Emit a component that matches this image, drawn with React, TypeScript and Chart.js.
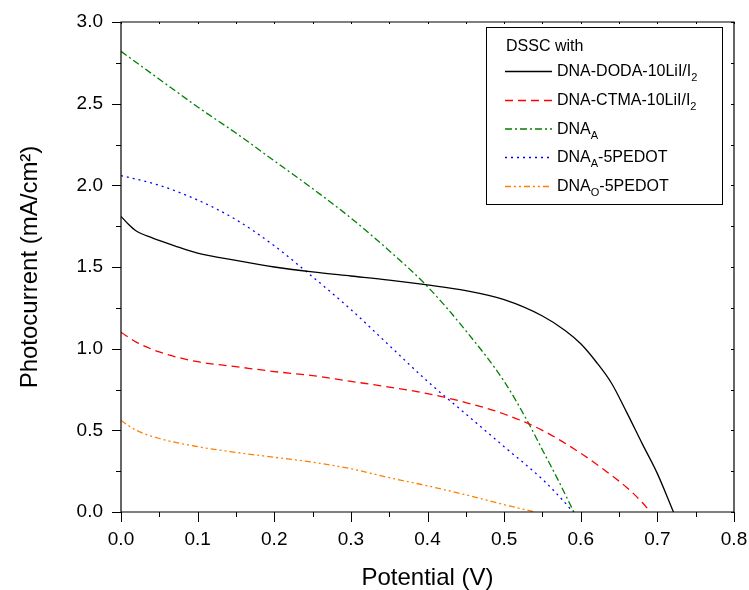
import React, { useEffect, useRef } from "react";
import { Chart, registerables } from "chart.js";

Chart.register(...registerables);

// ---- data (Potential V, Photocurrent mA/cm2) ----
const dodaV = [0, 0.01, 0.02, 0.04, 0.07, 0.1, 0.15, 0.2, 0.25, 0.3, 0.35, 0.4, 0.45, 0.5, 0.55, 0.58, 0.6, 0.62, 0.64, 0.66, 0.68, 0.7, 0.721];
const dodaJ = [1.81, 1.76, 1.72, 1.68, 1.63, 1.585, 1.54, 1.5, 1.47, 1.445, 1.42, 1.39, 1.355, 1.3, 1.2, 1.11, 1.03, 0.92, 0.79, 0.61, 0.42, 0.235, 0];

const ctmaV = [0, 0.02, 0.05, 0.1, 0.15, 0.2, 0.25, 0.3, 0.35, 0.4, 0.45, 0.5, 0.55, 0.6, 0.63, 0.66, 0.68, 0.691];
const ctmaJ = [1.1, 1.04, 0.98, 0.92, 0.89, 0.86, 0.835, 0.8, 0.765, 0.725, 0.67, 0.6, 0.5, 0.36, 0.26, 0.15, 0.06, 0];

const dnaAV = [0, 0.05, 0.1, 0.15, 0.2, 0.25, 0.3, 0.35, 0.4, 0.45, 0.5, 0.53, 0.55, 0.57, 0.591];
const dnaAJ = [2.82, 2.65, 2.48, 2.32, 2.15, 1.98, 1.8, 1.6, 1.38, 1.11, 0.8, 0.56, 0.38, 0.2, 0];

const dnaAPedotV = [0, 0.05, 0.1, 0.15, 0.2, 0.25, 0.3, 0.35, 0.4, 0.45, 0.5, 0.55, 0.575, 0.59];
const dnaAPedotJ = [2.06, 2.0, 1.91, 1.79, 1.63, 1.44, 1.24, 1.02, 0.8, 0.6, 0.4, 0.2, 0.08, 0];

const dnaOPedotV = [0, 0.02, 0.05, 0.1, 0.15, 0.2, 0.25, 0.3, 0.35, 0.4, 0.45, 0.5, 0.54];
const dnaOPedotJ = [0.56, 0.5, 0.45, 0.4, 0.365, 0.335, 0.305, 0.265, 0.21, 0.16, 0.105, 0.045, 0];

// legend labels: [main, subscript, after]
const legendTitle = "DSSC with";
const legendMain = ["DNA-DODA-10LiI/I", "DNA-CTMA-10LiI/I", "DNA", "DNA", "DNA"];
const legendSub = ["2", "2", "A", "A", "O"];
const legendAfter = ["", "", "", "-5PEDOT", "-5PEDOT"];

const xTitle = "Potential (V)";
const yTitle = "Photocurrent (mA/cm\u00B2)";

const FONT = "Arial, 'Liberation Sans', sans-serif";

const seriesX = [dodaV, ctmaV, dnaAV, dnaAPedotV, dnaOPedotV];
const seriesY = [dodaJ, ctmaJ, dnaAJ, dnaAPedotJ, dnaOPedotJ];
const colors = ["#000000", "#ff0000", "#008000", "#0000ff", "#ff8000"];
const dashes: number[][] = [[], [8, 5], [7, 3, 2, 3], [2, 4], [6, 3, 2, 3, 2, 3]];

const framePlugin = {
  id: "frameTicks",
  afterDraw(chart: any) {
    const { ctx, chartArea: ca, scales } = chart;
    const xs = scales.x;
    const ys = scales.y;
    ctx.save();
    ctx.strokeStyle = "#000";
    ctx.lineWidth = 1.2;
    ctx.beginPath();
    ctx.rect(ca.left, ca.top, ca.right - ca.left, ca.bottom - ca.top);
    ctx.stroke();
    ctx.lineWidth = 1;
    ctx.beginPath();
    for (let i = 0; i <= 16; i++) {
      const v = i * 0.05;
      const px = Math.round(xs.getPixelForValue(v)) + 0.5;
      const major = i % 2 === 0;
      ctx.moveTo(px, ca.bottom);
      ctx.lineTo(px, ca.bottom + (major ? 10 : 5));
      ctx.moveTo(px, ca.top);
      ctx.lineTo(px, ca.top + 2);
    }
    for (let i = 0; i <= 12; i++) {
      const v = i * 0.25;
      const py = Math.round(ys.getPixelForValue(v)) + 0.5;
      const major = i % 2 === 0;
      ctx.moveTo(ca.left, py);
      ctx.lineTo(ca.left - (major ? 9 : 5), py);
      ctx.moveTo(ca.right, py);
      ctx.lineTo(ca.right - 3, py);
    }
    ctx.stroke();

    // legend
    const bx = 486, by = 27, bw = 236, bh = 177;
    ctx.fillStyle = "#fff";
    ctx.fillRect(bx, by, bw, bh);
    ctx.strokeStyle = "#000";
    ctx.lineWidth = 1;
    ctx.strokeRect(bx + 0.5, by + 0.5, bw, bh);
    ctx.fillStyle = "#000";
    ctx.textBaseline = "middle";
    ctx.textAlign = "left";
    ctx.font = `16px ${FONT}`;
    ctx.fillText(legendTitle, 506, 47);
    const rowY = [71, 100, 128.5, 157, 186];
    for (let i = 0; i < legendMain.length; i++) {
      const y = rowY[i];
      ctx.save();
      ctx.strokeStyle = colors[i];
      ctx.lineWidth = 1.3;
      ctx.setLineDash(dashes[i]);
      ctx.beginPath();
      ctx.moveTo(505, y + 0.5);
      ctx.lineTo(552, y + 0.5);
      ctx.stroke();
      ctx.restore();
      let tx = 557;
      ctx.font = `16px ${FONT}`;
      ctx.fillText(legendMain[i], tx, y + 1);
      tx += ctx.measureText(legendMain[i]).width;
      ctx.font = `11px ${FONT}`;
      ctx.fillText(legendSub[i], tx, y + 7);
      tx += ctx.measureText(legendSub[i]).width;
      ctx.font = `16px ${FONT}`;
      if (legendAfter[i]) ctx.fillText(legendAfter[i], tx, y + 1);
    }
    ctx.restore();
  },
};

export default function App() {
  const canvasRef = useRef<HTMLCanvasElement | null>(null);

  useEffect(() => {
    if (!canvasRef.current) return;
    const datasets = seriesX.map((xs, i) => ({
      label: legendMain[i] + legendSub[i] + legendAfter[i],
      data: xs.map((x, j) => ({ x, y: seriesY[i][j] })),
      borderColor: colors[i],
      backgroundColor: colors[i],
      borderWidth: 1.3,
      borderDash: dashes[i],
      pointRadius: 0,
      showLine: true,
      fill: false,
      cubicInterpolationMode: "monotone" as const,
    }));
    const zeroPad = (s: any) => {
      s.paddingTop = 0;
      s.paddingBottom = 0;
      s.paddingLeft = 0;
      s.paddingRight = 0;
    };
    const chart = new Chart(canvasRef.current, {
      type: "line",
      data: { datasets },
      options: {
        animation: false,
        responsive: true,
        maintainAspectRatio: false,
        layout: { padding: { top: 22, right: 15, left: 0, bottom: 0 } },
        plugins: { legend: { display: false }, tooltip: { enabled: false } },
        scales: {
          x: {
            type: "linear",
            min: 0,
            max: 0.8,
            grid: { display: false, drawTicks: false },
            border: { display: false },
            ticks: {
              stepSize: 0.1,
              color: "#000",
              padding: 16,
              font: { family: FONT, size: 19 },
              callback: (v: any) => Number(v).toFixed(1),
            },
            title: {
              display: true,
              text: xTitle,
              color: "#000",
              font: { family: FONT, size: 24, lineHeight: 1 },
              padding: { top: 0, bottom: 0 },
            },
            afterFit: (s: any) => {
              s.height = 78;
              zeroPad(s);
            },
          },
          y: {
            type: "linear",
            min: 0,
            max: 3,
            grid: { display: false, drawTicks: false },
            border: { display: false },
            ticks: {
              stepSize: 0.5,
              color: "#000",
              padding: 18,
              font: { family: FONT, size: 19 },
              callback: (v: any) => Number(v).toFixed(1),
            },
            title: {
              display: true,
              text: yTitle,
              color: "#000",
              font: { family: FONT, size: 24, lineHeight: 1 },
              padding: { top: 18, bottom: 0 },
            },
            afterFit: (s: any) => {
              s.width = 121;
              zeroPad(s);
            },
          },
        },
      },
      plugins: [framePlugin],
    });
    return () => chart.destroy();
  }, []);

  return (
    <div style={{ position: "absolute", left: 0, top: 0, width: 749, height: 590, background: "#fff" }}>
      <canvas ref={canvasRef} />
    </div>
  );
}
